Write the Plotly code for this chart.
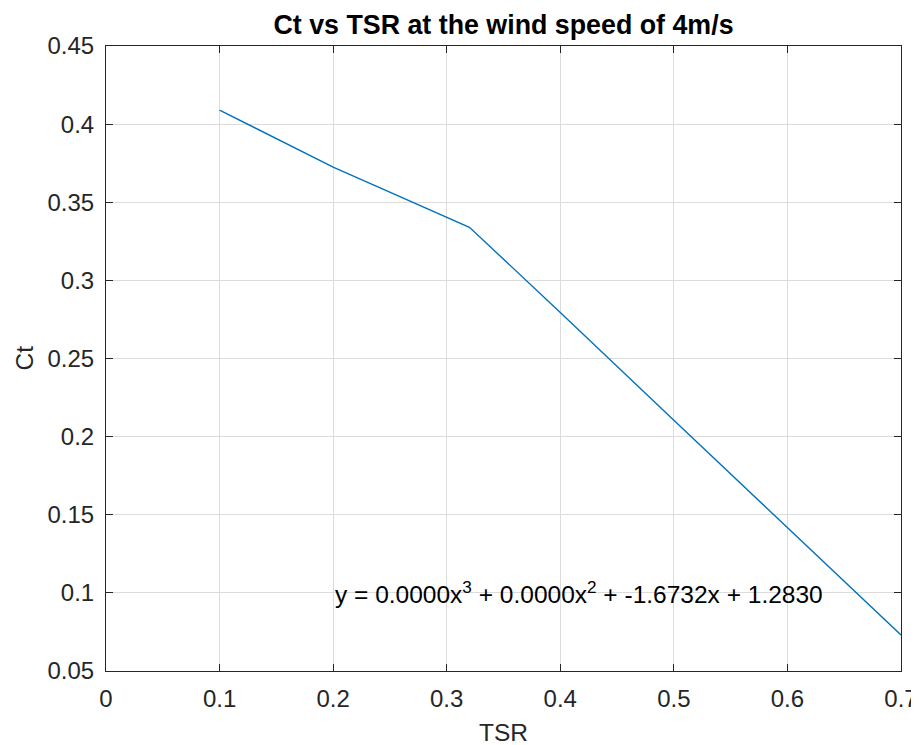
import plotly.graph_objects as go

tsr = [0.1, 0.2, 0.32, 0.4, 0.5, 0.6, 0.7]
ct = [0.409, 0.3725, 0.334, 0.2795, 0.2105, 0.1415, 0.073]
x_ticks = [0, 0.1, 0.2, 0.3, 0.4, 0.5, 0.6, 0.7]
x_ticktext = ["0", "0.1", "0.2", "0.3", "0.4", "0.5", "0.6", "0.7"]
y_ticks = [0.05, 0.1, 0.15, 0.2, 0.25, 0.3, 0.35, 0.4, 0.45]
y_ticktext = ["0.05", "0.1", "0.15", "0.2", "0.25", "0.3", "0.35", "0.4", "0.45"]
eq_text = "y = 0.0000x<sup>3</sup> + 0.0000x<sup>2</sup> + -1.6732x + 1.2830"
eq_pos = (0.2, 0.1)

FONT = "Liberation Sans, Arial, sans-serif"
AX = "#262626"
# page body has an 8px margin, so the figure starts at (8, 8) in the window
OFF = 8
W, H = 919 - OFF, 745 - OFF
ML, MT = 106 - OFF, 46 - OFF
MR = 919 - 901
MB = 745 - 671
PW, PH = W - ML - MR, H - MT - MB

fig = go.Figure()
fig.add_trace(go.Scatter(x=tsr, y=ct, mode="lines",
                         line=dict(color="#0072BD", width=1.4),
                         showlegend=False, hoverinfo="skip"))

fig.add_annotation(x=eq_pos[0], y=eq_pos[1], text=eq_text, showarrow=False,
                   xanchor="left", yanchor="middle", xshift=0,
                   font=dict(family=FONT, size=24.5, color="#000000"))

# axis titles
fig.add_annotation(xref="paper", yref="paper", x=0.5, y=-(732 - 671) / PH,
                   text="TSR", showarrow=False, xanchor="center", yanchor="middle",
                   font=dict(family=FONT, size=24.5, color=AX))
fig.add_annotation(xref="paper", yref="paper", x=(24 - 106) / PW, y=0.5,
                   text="Ct", showarrow=False, xanchor="center", yanchor="middle",
                   textangle=-90, font=dict(family=FONT, size=24.5, color=AX))

axis_common = dict(showline=True, mirror="ticks", linecolor=AX, linewidth=1,
                   ticks="inside", ticklen=7, tickcolor=AX, tickwidth=1,
                   showgrid=True, gridcolor="#dcdcdc", gridwidth=1,
                   zeroline=False, automargin=False,
                   tickfont=dict(family=FONT, size=24, color=AX))

fig.update_xaxes(range=[0, 0.7], tickmode="array", tickvals=x_ticks, ticktext=x_ticktext,
                 ticklabelstandoff=6, **axis_common)
fig.update_yaxes(range=[0.05, 0.45], tickmode="array", tickvals=y_ticks, ticktext=y_ticktext,
                 ticklabelstandoff=6, **axis_common)

fig.update_layout(
    width=W, height=H,
    margin=dict(l=ML, r=MR, t=MT, b=MB, pad=0, autoexpand=False),
    paper_bgcolor="white", plot_bgcolor="white",
    title=dict(text="<b>Ct vs TSR at the wind speed of 4m/s</b>",
               x=0.5, xanchor="center", xref="paper",
               y=1 - (25 - OFF) / H, yanchor="middle", yref="container",
               font=dict(family=FONT, size=26.8, color="#000000")),
)

fig.write_html("out.html")
